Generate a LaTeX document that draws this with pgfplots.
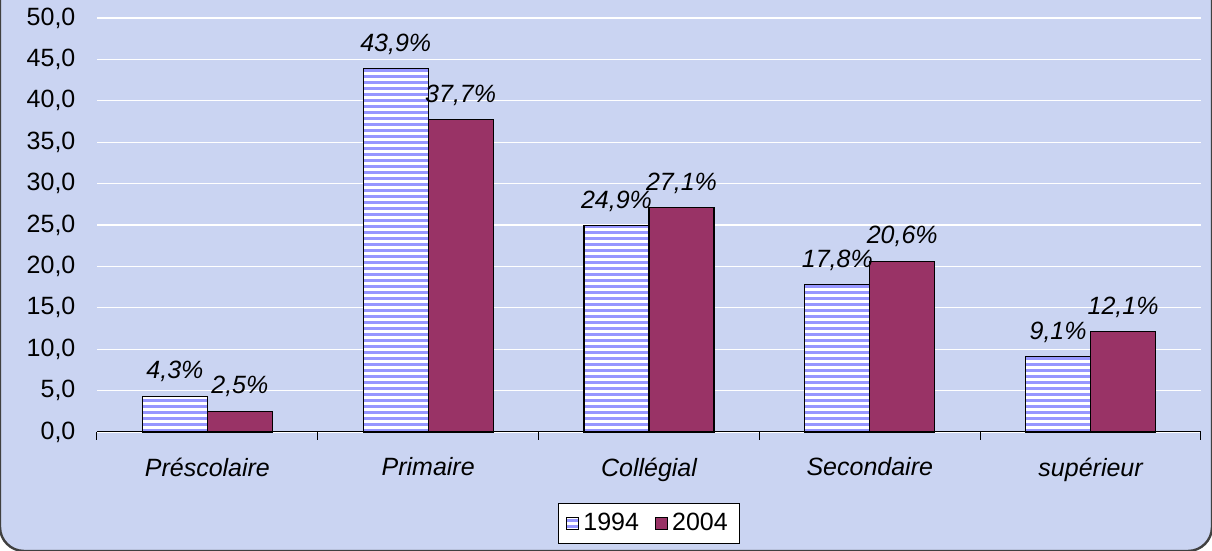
\documentclass[border=0pt]{standalone}
\usepackage{pgfplots}
\pgfplotsset{compat=1.18}
\usepackage{fontspec}
\setmainfont{Liberation Sans}
\usetikzlibrary{patterns.meta}
\definecolor{bg}{RGB}{202,212,242}
\definecolor{stripe}{RGB}{150,150,255}
\definecolor{maroon}{RGB}{153,51,102}
\begin{document}
\begin{tikzpicture}
\useasboundingbox (0,0) rectangle (606pt,275.5pt);
\begin{scope}
\clip (0,0) rectangle (606pt,275.5pt);
\fill[bg, draw=black!75, line width=1.2pt, rounded corners=12pt] (0,0) rectangle (606pt,295pt);
\end{scope}
\begin{axis}[
  at={(48.5pt,59.5pt)}, anchor=south west,
  scale only axis, width=552pt, height=207pt,
  ybar=0pt, bar width=0.294,
  xmin=-0.5, xmax=4.5, ymin=0, ymax=50,
  axis x line*=bottom, axis y line*=left,
  x axis line style={black, line width=0.5pt, -},
  y axis line style={draw=none},
  xtick={0,1,2,3,4},
  xticklabels={Préscolaire,Primaire,Collégial,Secondaire,supérieur},
  xticklabel style={font=\fontsize{12.5}{14}\selectfont\itshape, yshift=-5pt},
  major x tick style={draw=none},
  minor xtick={-0.5,0.5,1.5,2.5,3.5,4.5},
  minor tick length=4pt,
  tick align=outside,
  minor x tick style={black, line width=0.5pt},
  ytick={0,5,...,50},
  ymajorgrids, grid style={white, line width=0.6pt},
  yticklabel style={font=\fontsize{12.5}{14}\selectfont, anchor=east},
  yticklabel shift=3pt,
  major y tick style={draw=none},
  /pgf/number format/.cd, fixed, fixed zerofill, precision=1, use comma, assume math mode=true,
  /pgfplots/.cd,
  nodes near coords={\pgfmathprintnumber{\pgfplotspointmeta}\%},
  every node near coord/.append style={font=\fontsize{12.5}{14}\selectfont\itshape, black, yshift=3.5pt},
  legend style={at={(0.5,-0.221)}, anchor=center, legend columns=2, draw=black, fill=white,
    font=\fontsize{12.5}{14}\selectfont, inner xsep=4pt, inner ysep=3pt,
    /tikz/every even column/.append style={column sep=6pt}},
  legend image code/.code={\draw[#1] (1pt,-3pt) rectangle (7pt,3pt);},
  clip=false,
]
\addplot[draw=black, line width=0.6pt, fill=white,
  postaction={pattern={Lines[angle=0,distance=3pt,line width=1.5pt]}, pattern color=stripe}]
  coordinates {(0,4.3) (1,43.9) (2,24.9) (3,17.8) (4,9.1)};
\addplot[draw=black, line width=0.6pt, fill=maroon]
  coordinates {(0,2.5) (1,37.7) (2,27.1) (3,20.6) (4,12.1)};
\legend{1994,2004}
\end{axis}
\end{tikzpicture}
\end{document}
